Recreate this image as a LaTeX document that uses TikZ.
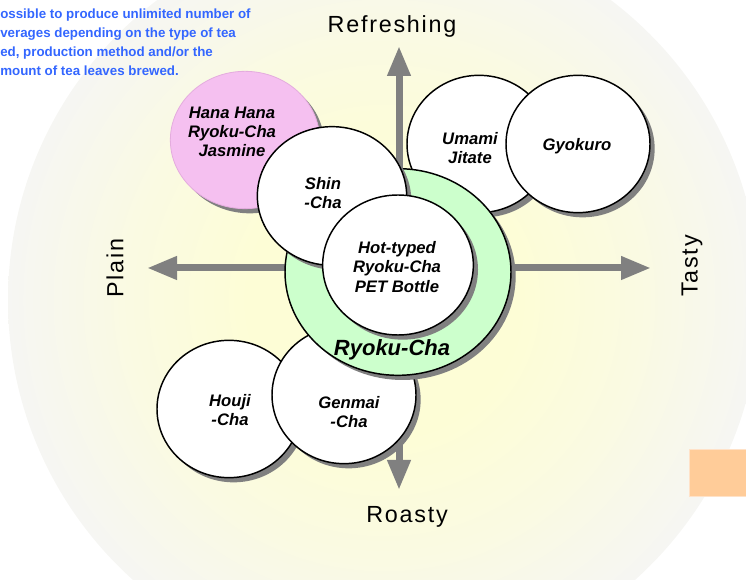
\documentclass[tikz,border=0pt]{standalone}
\usepackage{fontspec}
\setmainfont{Liberation Sans}
\newfontfamily\axisfont[LetterSpace=7.5]{Liberation Sans}
\usetikzlibrary{arrows.meta,shapes.geometric,shadows}
\definecolor{bgin}{RGB}{253,253,214}
\definecolor{bgmid}{RGB}{250,250,226}
\definecolor{bgout}{RGB}{246,246,243}
\definecolor{ringgreen}{RGB}{204,255,204}
\definecolor{hanapink}{RGB}{245,192,240}
\definecolor{hanaline}{RGB}{228,172,222}
\definecolor{noteblue}{RGB}{51,102,255}
\definecolor{boxorange}{RGB}{255,204,153}
\definecolor{boxline}{RGB}{255,226,200}
\definecolor{axisgray}{RGB}{128,128,128}
\pgfdeclareradialshading{bgglow}{\pgfpoint{0bp}{0bp}}{color(0bp)=(bgin); color(9bp)=(bgin); color(17bp)=(bgmid); color(25bp)=(bgout); color(50bp)=(bgout)}
\begin{document}
\begin{tikzpicture}[x=0.75pt, y=-0.75pt,
        tea/.style={ellipse, draw, line width=1.1pt, fill=white, inner sep=0pt,
                minimum width=108pt, minimum height=103pt,
                drop shadow={shadow xshift=3.5pt, shadow yshift=-3.5pt, fill=axisgray, opacity=1}},
        teatext/.style={font=\fontsize{12.5}{14.5}\selectfont\bfseries\itshape, align=center, inner sep=0pt},
        axisarrow/.style={draw=axisgray, line width=5.25pt, -{Triangle[length=22.5pt, width=16.5pt]}},
        axislabel/.style={font={\axisfont\fontsize{17.5}{20}\selectfont}, inner sep=0pt}]
        \useasboundingbox (0,0) rectangle (746,580);
        \clip (0,0) rectangle (746,580);

        \shade[shading=bgglow] (384,300) circle [radius=282pt];
        \filldraw[fill=boxorange, draw=boxline, line width=0.6pt] (689,449) rectangle (746,496);

        \node[anchor=north west, inner sep=0pt, align=left, text=noteblue,
                font=\fontsize{10}{14.25}\selectfont\bfseries] (note) at (0,9)
                {ossible to produce unlimited number of\\verages depending on the type of tea\\ed, production method and/or the\\mount of tea leaves brewed.};

        \coordinate (hub) at (399,268);
        \coordinate (uptip) at (399,46);
        \coordinate (downtip) at (399,490);
        \coordinate (lefttip) at (147,268);
        \coordinate (righttip) at (651,268);
        \draw[axisarrow] (hub) -- (uptip);
        \draw[axisarrow] (hub) -- (downtip);
        \draw[axisarrow] (hub) -- (lefttip);
        \draw[axisarrow] (hub) -- (righttip);

        \node[axislabel] (refreshing) at (392,26) {Refreshing};
        \node[axislabel] (roasty) at (407,517) {Roasty};
        \node[axislabel, rotate=90] (plain) at (115,268) {Plain};
        \node[axislabel, rotate=90] (tasty) at (692,266) {Tasty};

        \node[tea, fill=hanapink, draw=hanaline, line width=0.6pt, minimum width=112pt] (hana) at (245,140) {};
        \node[tea] (umami) at (479,144) {};
        \node[tea] (gyokuro) at (578,144) {};
        \node[tea] (houji) at (229,409) {};
        \node[tea] (genmai) at (344,395) {};
        \node[tea, fill=ringgreen, minimum width=169.5pt, minimum height=155pt] (ryoku) at (398,272) {};
        \node[tea, minimum width=112pt, minimum height=104pt] (shin) at (332,196) {};
        \node[tea, minimum width=113pt, minimum height=105pt] (hot) at (398,265) {};

        \node[teatext] (hanatext) at (232,132) {Hana Hana\\Ryoku-Cha\\Jasmine};
        \node[teatext] (umamitext) at (470,148) {Umami\\Jitate};
        \node[teatext] (gyokurotext) at (577,146) {Gyokuro};
        \node[teatext] (houjitext) at (230,410) {Houji\\-Cha};
        \node[teatext] (genmaitext) at (349,412) {Genmai\\-Cha};
        \node[teatext] (shintext) at (323,193) {Shin\\-Cha};
        \node[teatext] (hottext) at (397,267) {Hot-typed\\Ryoku-Cha\\PET Bottle};
        \node[teatext, font=\fontsize{16.5}{19}\selectfont\bfseries\itshape] (ryokutext) at (392,350) {Ryoku-Cha};
\end{tikzpicture}
\end{document}
